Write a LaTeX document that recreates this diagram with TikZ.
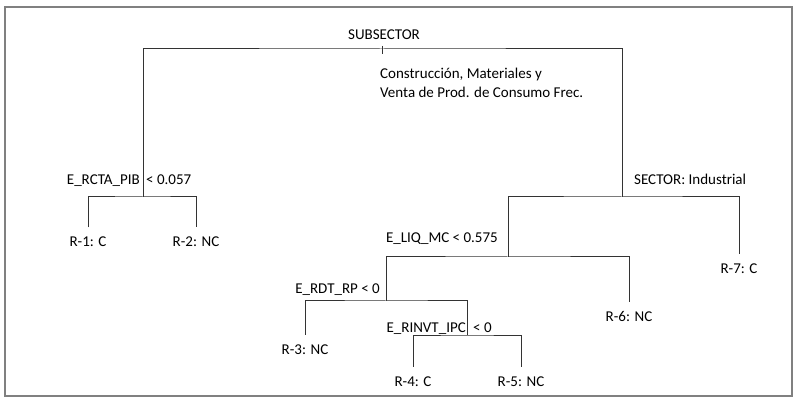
\documentclass[tikz,border=0pt]{standalone}
\usepackage{fontspec}
\setmainfont{Carlito}
\begin{document}
\begin{tikzpicture}[x=1pt,y=-1pt,
  font=\fontsize{15}{19}\selectfont,
  treeline/.style={draw=black!80, line width=1pt},
  lbl/.style={inner sep=0pt, text=black},
  leaf/.style={anchor=base, inner sep=0pt, text height=10pt, text depth=3pt, outer ysep=9.5pt, text=black},
  frame/.style={draw=gray, line width=2pt}]
\useasboundingbox (0,0) rectangle (803,403);
\draw[frame] (5,7) rectangle (792,396);

% split points
\coordinate (s0) at (382,49);
\coordinate (s1) at (143,197);
\coordinate (s2) at (622,197);
\coordinate (s3) at (508,257);
\coordinate (s4) at (386,301);
\coordinate (s5) at (467,335);

% leaves
\node[leaf] (r1) at (88,247) {R-1: C};
\node[leaf] (r2) at (196,247) {R-2: NC};
\node[leaf] (r7) at (739,274) {R-7: C};
\node[leaf] (r6) at (629,322) {R-6: NC};
\node[leaf] (r3) at (305,354) {R-3: NC};
\node[leaf] (r4) at (413,386) {R-4: C};
\node[leaf] (r5) at (521,386) {R-5: NC};

% labels
\node[lbl, anchor=base] (root) at (384,40) {SUBSECTOR};
\node[lbl, anchor=base west, align=left] (rootlab) at (380,98) {Construcción, Materiales y\\Venta de Prod. de Consumo Frec.};
\node[lbl, anchor=base east] (l1a) at (140,185) {E\_RCTA\_PIB};
\node[lbl, anchor=base west] (l1b) at (146,185) {< 0.057};
\node[lbl, anchor=base west] (l2) at (634,185) {SECTOR: Industrial};
\node[lbl, anchor=base east] (l3) at (498,243) {E\_LIQ\_MC < 0.575};
\node[lbl, anchor=base east] (l4) at (380,294) {E\_RDT\_RP < 0};
\node[lbl, anchor=base east] (l5a) at (466,332) {E\_RINVT\_IPC};
\node[lbl, anchor=base west] (l5b) at (473,332) {< 0};

% connectors
\draw[treeline] ([yshift=3pt]s0) -- ([yshift=-5pt]s0);
\draw[treeline] (s1) |- (s0) -| (s2);
\draw[treeline] (r1.north) |- (s1) -| (r2.north);
\draw[treeline] (s3) |- (s2) -| (r7.north);
\draw[treeline] (s4) |- (s3) -| (r6.north);
\draw[treeline] (r3.north) |- (s4) -| (s5);
\draw[treeline] (r4.north) |- (s5) -| (r5.north);
\end{tikzpicture}
\end{document}
